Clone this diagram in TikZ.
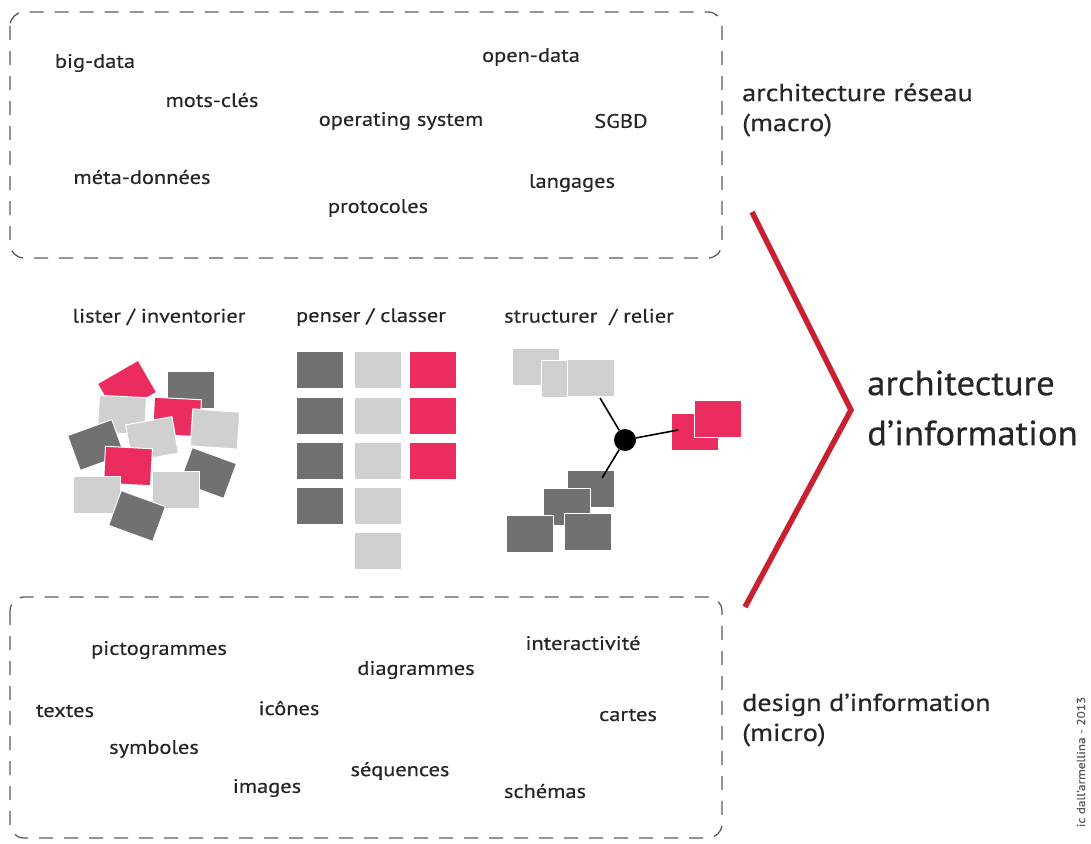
\documentclass[tikz,border=0pt]{standalone}
\usepackage{fontspec}
\setmainfont{PT Sans}[FakeStretch=1.15,FakeBold=0.4]
\newfontfamily\bigfont{PT Sans}[FakeStretch=1.05,FakeBold=0.4]
\definecolor{dkg}{HTML}{717171}
\definecolor{ltg}{HTML}{D0D0D0}
\definecolor{pnk}{HTML}{EA2D5E}
\definecolor{txt}{HTML}{262626}
\definecolor{chev}{HTML}{C8202F}
\definecolor{dashc}{HTML}{5A5A5A}
\tikzset{
  sq/.style={draw=white,line width=1pt,inner sep=0pt,minimum width=47pt,minimum height=37pt},
  dk/.style={sq,fill=dkg},
  lt/.style={sq,fill=ltg},
  pk/.style={sq,fill=pnk},
  word/.style={text=txt,font=\fontsize{19.5}{21}\selectfont,inner sep=0pt},
  head/.style={text=txt,font=\fontsize{19.5}{21}\selectfont,inner sep=0pt},
  side/.style={text=txt,font=\fontsize{24.5}{30}\selectfont,inner sep=0pt,anchor=west},
  zone/.style={draw=dashc,line width=1.3pt,dash pattern=on 14pt off 11pt,rounded corners=14pt},
  link/.style={draw=black,line width=1.6pt}
}
\begin{document}
\begin{tikzpicture}[x=1pt,y=-1pt]
\useasboundingbox (0,0) rectangle (1091,843);
% dashed zones
\draw[zone] (10,12) rectangle (722,258);
\draw[zone] (10,597) rectangle (722,838);
% top words
\node[word] (w1) at (95,63) {big-data};
\node[word] (w2) at (212,100) {mots-clés};
\node[word] (w3) at (401,121) {operating system};
\node[word] (w4) at (531,57) {open-data};
\node[word] (w5) at (621,121) {SGBD};
\node[word] (w6) at (142,177) {méta-données};
\node[word] (w7) at (572,183) {langages};
\node[word] (w8) at (378,208) {protocoles};
% bottom words
\node[word] (b1) at (159,650) {pictogrammes};
\node[word] (b2) at (583,643) {interactivité};
\node[word] (b3) at (416,670) {diagrammes};
\node[word] (b4) at (65,711) {textes};
\node[word] (b5) at (289,708) {icônes};
\node[word] (b6) at (628,715) {cartes};
\node[word] (b7) at (154,749) {symboles};
\node[word] (b8) at (400,771) {séquences};
\node[word] (b9) at (267,788) {images};
\node[word] (b10) at (545,791) {schémas};
% side labels
\node[side,align=left] (s1) at (742,110) {architecture réseau\\(macro)};
\node[side,align=left] (s2) at (742,720) {design d’information\\(micro)};
\node[text=txt,font=\bigfont\fontsize{35}{50}\selectfont,inner sep=0pt,anchor=west,align=left] (s3) at (867,408) {architecture\\d’information};
% chevron
\coordinate (c1) at (752,212);
\coordinate (c2) at (851,410);
\coordinate (c3) at (745,607);
\draw[chev,line width=5.5pt,line join=miter] (c1) -- (c2) -- (c3);
% headings
\node[head] (h1) at (159,317) {lister / inventorier};
\node[head] (h2) at (371,317) {penser / classer};
\node[head] (h3) at (589,317) {structurer~ / relier};
% lister scatter
\node[pk,rotate=30] (l1) at (127,388) {};
\node[dk] (l2) at (191,390) {};
\node[lt,rotate=-3] (l3) at (122,415) {};
\node[pk,rotate=-3] (l4) at (177,417) {};
\node[lt,rotate=-4] (l5) at (215,429) {};
\node[dk,rotate=20] (l6) at (96,445) {};
\node[lt,rotate=10] (l7) at (152,439) {};
\node[pk,rotate=-3] (l8) at (128,466) {};
\node[dk,rotate=-20] (l9) at (208,473) {};
\node[lt] (l10) at (176,490) {};
\node[lt] (l11) at (97,495) {};
\node[dk,rotate=-20] (l12) at (137,516) {};
% penser grid
\foreach \i/\y in {1/370,2/416,3/461,4/506}{\node[dk] (pd\i) at (320,\y) {};}
\foreach \i/\y in {1/370,2/416,3/461,4/506,5/551}{\node[lt] (pl\i) at (378,\y) {};}
\foreach \i/\y in {1/370,2/416,3/461}{\node[pk] (pp\i) at (433,\y) {};}
% structurer
\node[lt] (sl1) at (536,367) {};
\node[lt] (sl2) at (565,379) {};
\node[lt] (sl3) at (591,378) {};
\node[pk] (sp1) at (695,432) {};
\node[pk] (sp2) at (718,419) {};
\node[dk] (sd1) at (591,489) {};
\node[dk] (sd2) at (567,507) {};
\node[dk] (sd3) at (530,534) {};
\node[dk] (sd4) at (588,532) {};
\coordinate (e1) at (600,398);
\coordinate (e2) at (678,430);
\coordinate (e3) at (602,478);
\node[circle,fill=black,inner sep=0pt,minimum size=22pt] (hub) at (625,440) {};
\draw[link] (hub) -- (e1);
\draw[link] (hub) -- (e2);
\draw[link] (hub) -- (e3);
% credit
\node[rotate=90,text=black!65,font=\fontsize{11.5}{12}\selectfont,inner sep=0pt] (cr) at (1081,762) {ic dall’armellina - 2013};
\end{tikzpicture}
\end{document}
